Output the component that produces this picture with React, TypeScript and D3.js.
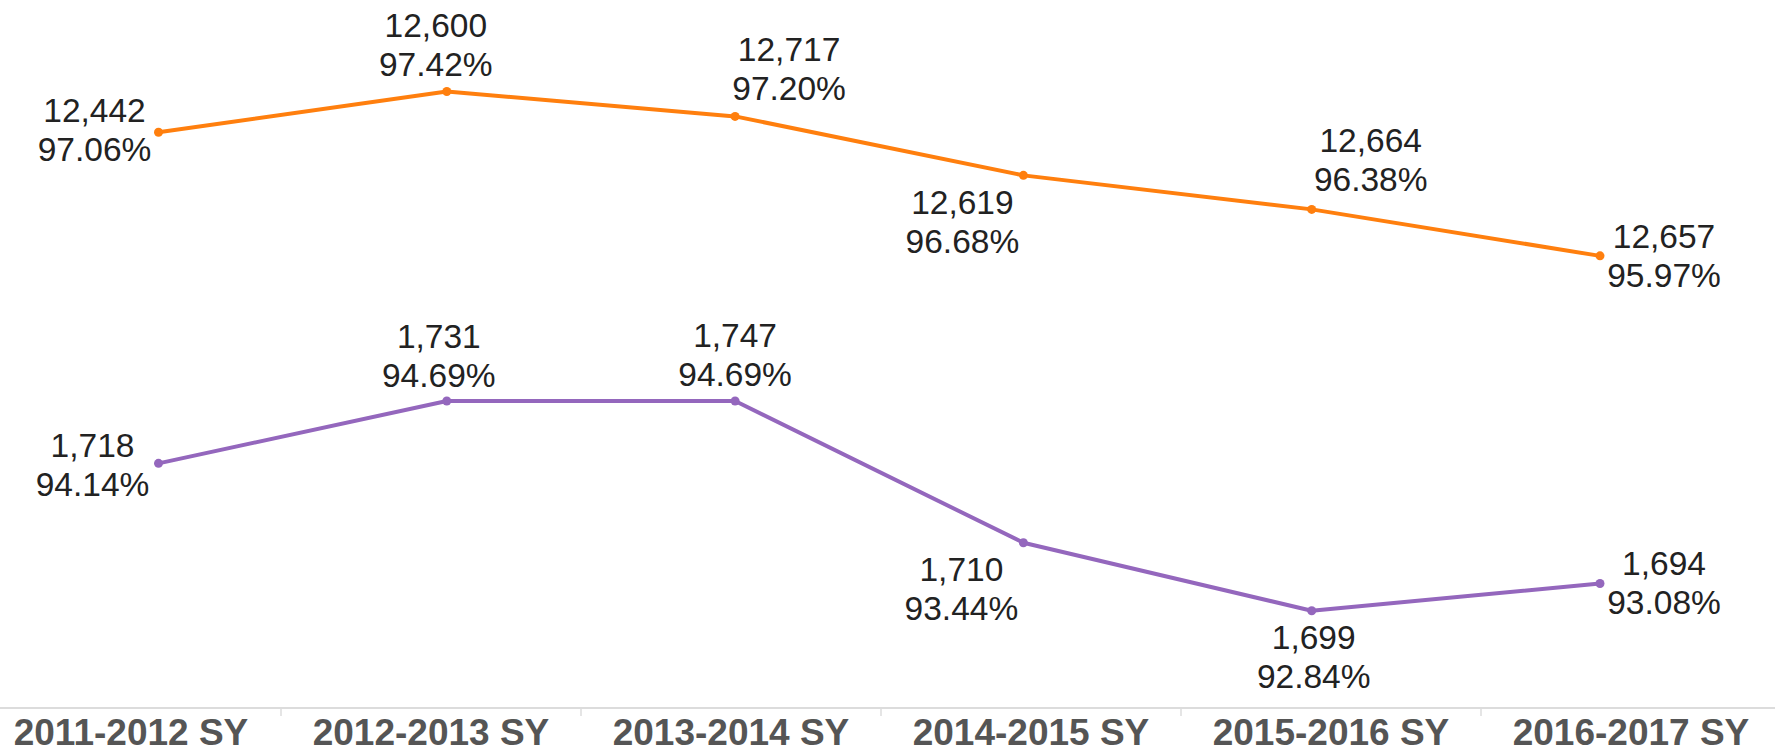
import React from "react";
import * as d3 from "d3";

const categories = ["2011-2012 SY", "2012-2013 SY", "2013-2014 SY", "2014-2015 SY", "2015-2016 SY", "2016-2017 SY"];
const orangeCounts = [12442, 12600, 12717, 12619, 12664, 12657];
const orangeRates = [97.06, 97.42, 97.2, 96.68, 96.38, 95.97];
const purpleCounts = [1718, 1731, 1747, 1710, 1699, 1694];
const purpleRates = [94.14, 94.69, 94.69, 93.44, 92.84, 93.08];

// label placement offsets (layout only)
const orangeLabelOffsets: [number, number][] = [[-64, -22], [-11, -66], [54, -67], [-61, 27], [59, -69], [64, -20]];
const purpleLabelOffsets: [number, number][] = [[-66, -18], [-8, -65], [0, -66], [-62, 26], [2, 26], [64, -21]];

const W = 1775;
const H = 752;
const FONT = "'Liberation Sans', Arial, Helvetica, sans-serif";

export default function App() {
  const x = d3.scalePoint<string>().domain(categories).range([158.5, 1600]);
  const xb = d3.scaleBand<string>().domain(categories).range([-19, 1781]);
  const y = d3.scaleLinear().domain([92, 98]).range([706, 25.7]);
  const line = d3
    .line<[string, number]>()
    .x((d) => x(d[0]) as number)
    .y((d) => y(d[1]));
  const fmt = d3.format(",");
  const series = [
    { color: "#ff7f0e", counts: orangeCounts, rates: orangeRates, offs: orangeLabelOffsets },
    { color: "#9467bd", counts: purpleCounts, rates: purpleRates, offs: purpleLabelOffsets },
  ];
  const axisY = 708;
  return (
    <svg width={W} height={H} style={{ position: "absolute", left: 0, top: 0, background: "#fff" }}>
      <rect x={0} y={0} width={W} height={H} fill="#fff" />
      <line x1={0} x2={W} y1={axisY} y2={axisY} stroke="#dcdcdc" strokeWidth={2} />
      {categories.slice(1).map((c) => (
        <line key={c} x1={xb(c)} x2={xb(c)} y1={axisY} y2={axisY + 8} stroke="#dcdcdc" strokeWidth={1.5} />
      ))}
      {categories.map((c) => (
        <text
          key={c}
          x={(xb(c) as number) + xb.bandwidth() / 2}
          y={745}
          textAnchor="middle"
          fontFamily={FONT}
          fontWeight="bold"
          fontSize={37}
          fill="#555"
        >
          {c}
        </text>
      ))}
      {series.map((s, si) => {
        const pts: [string, number][] = categories.map((c, i) => [c, s.rates[i]]);
        return (
          <g key={si}>
            <path d={line(pts) || ""} fill="none" stroke={s.color} strokeWidth={4} strokeLinejoin="round" />
            {pts.map((p, i) => (
              <circle key={i} cx={x(p[0])} cy={y(p[1])} r={4.5} fill={s.color} />
            ))}
            {pts.map((p, i) => {
              const px = (x(p[0]) as number) + s.offs[i][0];
              const py = y(p[1]) + s.offs[i][1] + 12;
              return (
                <text key={"t" + i} x={px} y={py} textAnchor="middle" fontFamily={FONT} fontSize={33.5} fill="#222">
                  <tspan x={px}>{fmt(s.counts[i])}</tspan>
                  <tspan x={px} dy={39}>
                    {s.rates[i].toFixed(2) + "%"}
                  </tspan>
                </text>
              );
            })}
          </g>
        );
      })}
    </svg>
  );
}
